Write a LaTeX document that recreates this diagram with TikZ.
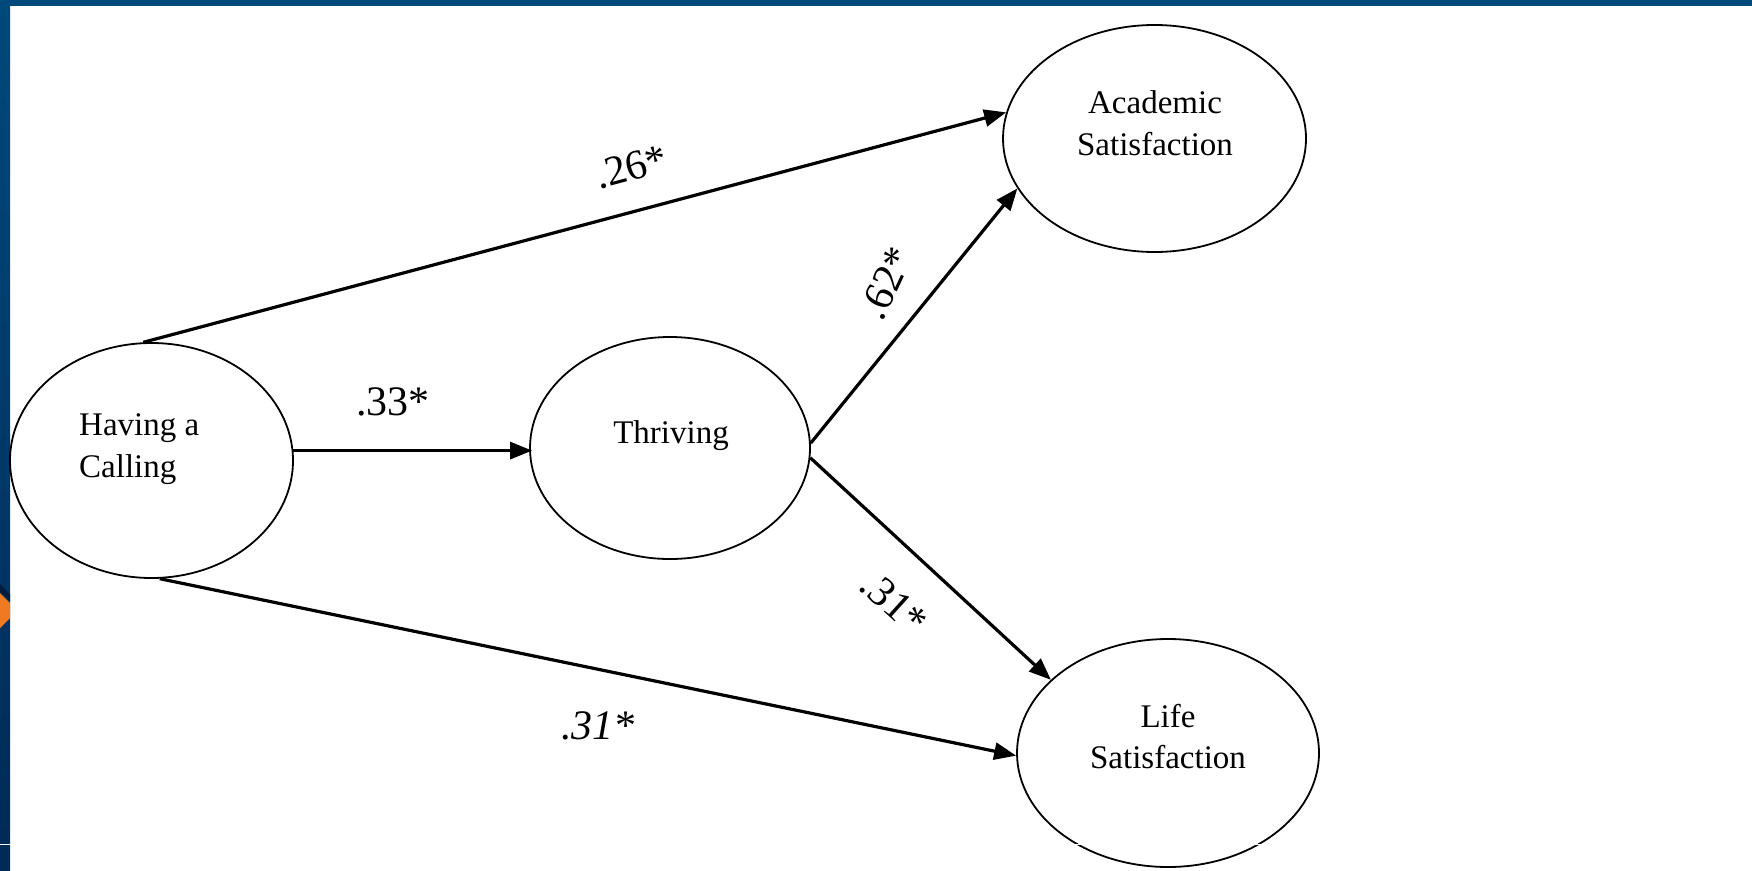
\documentclass[tikz,border=0pt]{standalone}
\usepackage{fontspec}
\setmainfont{Liberation Serif}
\usetikzlibrary{arrows.meta,shapes.geometric}
\definecolor{frameblue}{HTML}{00497B}
\definecolor{framedark}{HTML}{002A57}
\definecolor{stripeorange}{HTML}{F07A22}
\tikzset{
  ell/.style={draw=black, line width=1.8pt, ellipse, inner sep=0pt, fill=white},
  txt/.style={font=\fontsize{33}{42}\selectfont, inner sep=0pt},
  coef/.style={font=\fontsize{42}{48}\selectfont, inner sep=0pt},
  arr/.style={line width=3.2pt, -{Triangle[length=22pt,width=17pt]}},
}
\begin{document}
\begin{tikzpicture}[x=1pt,y=-1pt]
\useasboundingbox (0,0) rectangle (1752,870);
\fill[white] (0,0) rectangle (1752,870);
% frame
\fill[frameblue] (0,0) rectangle (1752,6);
\shade[top color=frameblue, bottom color=framedark] (0,0) rectangle (10,870);
\fill[framedark!70!black] (0,584) -- (10,594) -- (10,601) -- (0,592) -- cycle;
\fill[stripeorange] (0,593) -- (10,603) -- (10,618) -- (0,628) -- cycle;
% ellipses
\node[ell, minimum width=283pt, minimum height=235pt] (hc) at (151.5,460.5) {};
\node[ell, minimum width=280pt, minimum height=222pt] (th) at (670,448) {};
\node[ell, minimum width=303pt, minimum height=227pt] (as) at (1154.5,138.5) {};
\node[ell, minimum width=302pt, minimum height=228pt] (ls) at (1168,753) {};
% texts
\node[txt, anchor=base west] (hc1) at (79,435) {Having a};
\node[txt, anchor=base west] (hc2) at (79,477) {Calling};
\node[txt, anchor=base] (th1) at (671,443) {Thriving};
\node[txt, anchor=base] (as1) at (1155,113) {Academic};
\node[txt, anchor=base] (as2) at (1155,155) {Satisfaction};
\node[txt, anchor=base] (ls1) at (1168,727) {Life};
\node[txt, anchor=base] (ls2) at (1168,768) {Satisfaction};
% connectors
\coordinate (hcr) at (hc.4);
\draw[arr] (hc.94) -- (as.170);
\draw[arr] (hcr) -- ([xshift=3pt]hcr -| th.west);
\draw[arr] (th.2) -- (as.200);
\draw[arr] (th.-4) -- (ls.148);
\draw[arr] (hc.-86) -- (ls.181);
% coefficients
\node[coef, rotate=15] (c1) at (631,167) {.26*};
\node[coef] (c2) at (393,402) {.33*};
\node[coef, rotate=65] (c3) at (886,283) {.62*};
\node[coef, rotate=-42] (c4) at (894,603) {.31*};
\node[coef, font=\fontsize{42}{48}\selectfont\itshape] (c5) at (598,726) {.31*};
% thin white rule
\draw[white, line width=1.2pt] (0,844.5) -- (1752,844.5);
\end{tikzpicture}
\end{document}
